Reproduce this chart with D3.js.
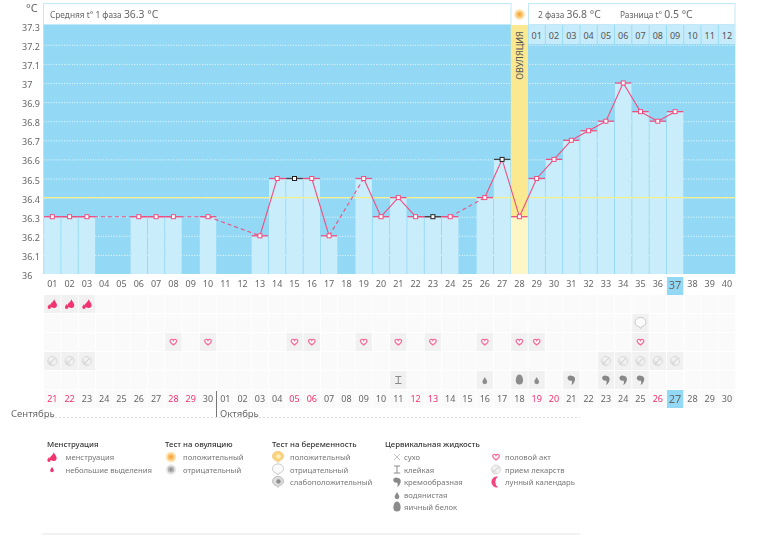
<!DOCTYPE html>
<html><head><meta charset="utf-8">
<script src="https://cdn.jsdelivr.net/npm/d3@7"></script>
<style>
html,body{margin:0;padding:0;background:#fff}
svg{display:block;filter:blur(.3px)}
text{font-family:"Noto Sans",sans-serif}
</style></head><body><svg id="c" width="770" height="535" fill="#666"></svg>
<script>
const cycleDays = d3.range(1,41);
const tempDays = [1,2,3,6,7,8,10,13,14,15,16,17,19,20,21,22,23,24,26,27,28,29,30,31,32,33,34,35,36,37];
const temps = [36.3,36.3,36.3,36.3,36.3,36.3,36.3,36.2,36.5,36.5,36.5,36.2,36.5,36.3,36.4,36.3,36.3,36.3,36.4,36.6,36.3,36.5,36.6,36.7,36.75,36.8,37,36.85,36.8,36.85];
const blackDays = [15,23,27];
const yTicks = [36,36.1,36.2,36.3,36.4,36.5,36.6,36.7,36.8,36.9,37,37.1,37.2,37.3];
const calendarDates = ["21","22","23","24","25","26","27","28","29","30","01","02","03","04","05","06","07","08","09","10","11","12","13","14","15","16","17","18","19","20","21","22","23","24","25","26","27","28","29","30"];
const redDays = [1,2,8,9,15,16,22,23,29,30,36];
const topDates = ["01","02","03","04","05","06","07","08","09","10","11","12"];
const ovulationDay = 28, todayDay = 37, coverline = 36.4;
const menstruationDays = [1,2,3];
const pregnancyDays = [35];
const heartDays = [8,10,15,16,19,21,23,26,28,29,35];
const pillDays = [1,2,3,33,34,35,36,37];
const stickyDays = [21], wateryDays = [26,29], eggDays = [28], creamyDays = [31,33,34,35];
const phase1 = "36.3 °C", phase2 = "36.8 °C", phaseDiff = "0.5 °C";

const pink="#ee4f80", blue="#93d9f5", pale="#caedfc";
const svg=d3.select("#c");
const x=d3.scaleBand().domain(cycleDays).range([43.65,735.65]).paddingInner(0.05).paddingOuter(0.025);
const cx=d=>x(d)+x.bandwidth()/2;
const y=d3.scaleLinear().domain([36,37.3]).range([274,25.7]);
const bw=x.bandwidth();

// gradient for pills
const defs=svg.append("defs");
const gr=defs.append("linearGradient").attr("id","pillG").attr("x1",0).attr("y1",1).attr("x2",1).attr("y2",0);
gr.append("stop").attr("offset",0).attr("stop-color","#cfcfcf");
gr.append("stop").attr("offset",.5).attr("stop-color","#f4f4f4");
gr.append("stop").attr("offset",1).attr("stop-color","#e2e2e2");

// icons
const dropP="M0,-4.5C1,-2 3,-.5 3,1.6A3,3 0 0 1-3,1.6C-3,-.5-1,-2 0,-4.5Z";
function icon(g,t,px,py){
  const n=g.append("g").attr("transform",`translate(${px},${py})`);
  const drop=(dx,dy,s,f)=>n.append("path").attr("d",dropP).attr("fill",f).attr("transform",`translate(${dx},${dy}) scale(${s})`);
  if(t==="men"){drop(-3,2.4,.55,"#f2336f");drop(-.6,.8,.55,"#f2336f");drop(1.8,-.4,.95,"#f2336f");}
  if(t==="spot"){drop(0,0,.6,"#f2336f");}
  if(t==="heart"){n.append("path").attr("transform","scale(.72)").attr("d","M0,4C-3,1.8-4.6,.4-4.6,-1.5A2.4,2.4 0 0 1 0,-2.2A2.4,2.4 0 0 1 4.6,-1.5C4.6,.4 3,1.8 0,4Z").attr("fill","#fff").attr("stroke","#f5709b").attr("stroke-width",1.8);}
  if(t==="pill"){n.append("circle").attr("r",4.6).attr("fill","url(#pillG)").attr("stroke","#d2d2d2").attr("stroke-width",.7);
    n.append("path").attr("d","M-2.6,2.6L2.6,-2.6").attr("stroke","#c2c2c2").attr("stroke-width",.8);}
  if(t==="preg"||t==="pregPos"||t==="pregWeak"){
    const f=t==="preg"?"#fbfbfb":t==="pregPos"?"#fbd27e":"#dcdcdc", s=t==="preg"?"#c4c4c4":t==="pregPos"?"#f5cb85":"#bbb";
    n.append("path").attr("d","M-5.5,-1A5.5,4.6 0 0 1 5.5,-1C5.5,2 3,3.4 1,3.8L0,5.5L-1.2,3.8C-3.5,3.4-5.5,2-5.5,-1Z").attr("fill",f).attr("stroke",s).attr("stroke-width",.9);
    if(t!=="preg")n.append("circle").attr("r",2.2).attr("cx",.5).attr("cy",-.6).attr("fill",t==="pregPos"?"#fdeebd":"#8f8f8f");}
  if(t==="sun"||t==="sunNeg"){
    const a=t==="sun";
    n.append("circle").attr("r",5.2).attr("fill",a?"#fde3ae":"#e8e8e8");
    n.append("circle").attr("r",3.3).attr("fill",a?"#f9c06a":"#b5b5b5");
    n.append("circle").attr("r",1.4).attr("fill",a?"#f7a43c":"#919191");}
  if(t==="dry"){n.append("path").attr("d","M-3,-3L3,3M3,-3L-3,3").attr("stroke","#b5b5b5").attr("stroke-width",.8);}
  if(t==="sticky"){n.append("path").attr("d","M-3,-3.5H3M0,-3.5V3.5M-3.2,3.5H3.2").attr("stroke","#8a8a8a").attr("stroke-width",1).attr("fill","none");}
  if(t==="watery"){drop(0,.5,.8,"#8c8c8c");}
  if(t==="egg"){n.append("path").attr("d","M0,-5.5C2.5,-5.5 3.6,-2 3.6,.6A3.6,4 0 0 1-3.6,.6C-3.6,-2-2.5,-5.5 0,-5.5Z").attr("fill","#8c8c8c");}
  if(t==="creamy"){n.append("path").attr("d","M-3.8,-2.2A3,2.6 0 0 1 1,-4C4,-3.4 4.4,-.5 3,2C2.3,3.6 1.2,4.6 0,5C1,3 1,1.6 0,.6C-1.6,1-3.8,.3-3.8,-2.2Z").attr("fill","#888");}
  if(t==="moon"){n.append("path").attr("d","M2,-5.5A5.6,5.6 0 1 0 2,5.5A7,7 0 0 1 2,-5.5Z").attr("fill","#f2447f");}
}

// header
svg.append("text").attr("x",26).attr("y",12).attr("font-size",11).text("°C");
const hdr=svg.append("g");
[[43.5,3.5,467.5,21],[528.5,3.5,206.5,21]].forEach(r=>hdr.append("rect").attr("x",r[0]).attr("y",r[1]).attr("width",r[2]).attr("height",r[3]).attr("fill","#fff").attr("stroke","#c3e8f7"));
function hText(px,small,big){
  const t=svg.append("text").attr("x",px).attr("y",18).attr("font-size",8.3);
  t.append("tspan").text(small+" ");
  t.append("tspan").attr("font-size",10.4).text(big);
}
hText(50,"Средняя t° 1 фаза",phase1);
hText(538,"2 фаза",phase2);
hText(620,"Разница t°",phaseDiff);
icon(svg,"sun",519.5,14.5);

// plot
svg.append("rect").attr("x",43.3).attr("y",25).attr("width",692).attr("height",249).attr("fill",blue);
svg.append("g").selectAll("line").data(yTicks.slice(1,-1)).join("line")
  .attr("x1",43.3).attr("x2",735.3).attr("y1",d=>y(d)+.5).attr("y2",d=>y(d)+.5)
  .attr("stroke","#fff").attr("stroke-opacity",.85).attr("stroke-dasharray","1,1.6");
// top date cells
const topCols=cycleDays.slice(28);
svg.append("g").selectAll("rect").data(topCols).join("rect")
  .attr("x",d=>x(d)).attr("width",bw).attr("y",25).attr("height",19).attr("fill","#c6ebfa");
svg.append("g").selectAll("text").data(topCols).join("text")
  .attr("x",cx).attr("y",39).attr("text-anchor","middle").attr("font-size",9).attr("fill","#555")
  .text((d,i)=>topDates[i]);
// ovulation band
svg.append("rect").attr("x",x(ovulationDay)-.4).attr("width",bw+.8).attr("y",25).attr("height",y(36.3)-25).attr("fill","#fbe991");
svg.append("rect").attr("x",x(ovulationDay)-.4).attr("width",bw+.8).attr("y",y(36.3)).attr("height",274-y(36.3)).attr("fill","#fdf6c6");
// bars
const pts=tempDays.map((d,i)=>({d,t:temps[i]}));
svg.append("g").selectAll("rect").data(pts.filter(p=>p.d!==ovulationDay)).join("rect")
  .attr("x",p=>x(p.d)).attr("width",bw).attr("y",p=>y(p.t)).attr("height",p=>y(36)-y(p.t)).attr("fill",pale);
// coverline
svg.append("line").attr("x1",43.3).attr("x2",735.3).attr("y1",y(coverline)).attr("y2",y(coverline)).attr("stroke","#f4ee8c").attr("stroke-width",1.4);
svg.append("text").attr("transform",`translate(${cx(ovulationDay)+3.2},55.5) rotate(-90)`).attr("text-anchor","middle").attr("font-size",9).attr("fill","#555").text("ОВУЛЯЦИЯ");
// lines
const segs=d3.pairs(pts);
svg.append("g").selectAll("line").data(segs).join("line")
  .attr("x1",s=>cx(s[0].d)).attr("y1",s=>y(s[0].t)).attr("x2",s=>cx(s[1].d)).attr("y2",s=>y(s[1].t))
  .attr("stroke",pink).attr("stroke-width",1.1)
  .attr("stroke-dasharray",s=>s[1].d-s[0].d>1?"4,3":null);
// caps & markers
svg.append("g").selectAll("line").data(pts).join("line")
  .attr("x1",p=>x(p.d)).attr("x2",p=>x(p.d)+bw).attr("y1",p=>y(p.t)).attr("y2",p=>y(p.t))
  .attr("stroke",p=>blackDays.includes(p.d)?"#444":pink).attr("stroke-width",1.3);
svg.append("g").selectAll("rect").data(pts).join("rect")
  .attr("x",p=>cx(p.d)-2).attr("y",p=>y(p.t)-2).attr("width",4).attr("height",4)
  .attr("fill","#fff").attr("stroke",p=>blackDays.includes(p.d)?"#222":pink).attr("stroke-width",1);

// axes
const yAxis=svg.append("g").call(d3.axisLeft(y).tickValues(yTicks).tickSize(0).tickFormat(d=>String(+d.toFixed(1))));
yAxis.select(".domain").remove();
yAxis.selectAll("text").attr("x",22).attr("dy","0.5em").attr("text-anchor","start").attr("font-size",9).attr("font-family",'"Noto Sans",sans-serif').attr("fill","#666");
svg.append("rect").attr("x",x(todayDay)).attr("y",277).attr("width",bw).attr("height",18).attr("fill",blue);
const xAxis=svg.append("g").attr("transform","translate(0,277)").call(d3.axisBottom(x).tickSize(0).tickFormat(d=>d<10?"0"+d:""+d));
xAxis.select(".domain").remove();
xAxis.selectAll("text").attr("y",4).attr("font-size",d=>d===todayDay?11:9).attr("font-family",'"Noto Sans",sans-serif').attr("fill","#666");

// symptom grid
const rowY=[295,314,333,352,371,390], rowH=18;
const active=[menstruationDays,pregnancyDays,heartDays,pillDays,[...stickyDays,...wateryDays,...eggDays,...creamyDays],[]];
rowY.forEach((ry,r)=>{
  svg.append("g").selectAll("rect").data(cycleDays).join("rect")
    .attr("x",d=>x(d)).attr("y",ry).attr("width",bw).attr("height",rowH)
    .attr("fill",d=>active[r].includes(d)?"#f1f1f1":(r===5&&d===todayDay?blue:"#fafafa"));
});
const place=(arr,r,t)=>arr.forEach(d=>icon(svg,t,cx(d),rowY[r]+9));
place(menstruationDays,0,"men");place(pregnancyDays,1,"preg");place(heartDays,2,"heart");place(pillDays,3,"pill");
place(stickyDays,4,"sticky");place(wateryDays,4,"watery");place(eggDays,4,"egg");place(creamyDays,4,"creamy");
svg.append("g").selectAll("text").data(cycleDays).join("text")
  .attr("x",cx).attr("y",d=>d===todayDay?403:402).attr("text-anchor","middle")
  .attr("font-size",d=>d===todayDay?11:9)
  .attr("fill",d=>redDays.includes(d)?"#f2336f":"#666")
  .text((d,i)=>calendarDates[i]);
// months
svg.append("line").attr("x1",216.5).attr("x2",216.5).attr("y1",391).attr("y2",417).attr("stroke","#777");
svg.append("text").attr("x",11).attr("y",417).attr("font-size",9.5).text("Сентябрь");
svg.append("text").attr("x",220).attr("y",417).attr("font-size",9.5).text("Октябрь");
svg.append("line").attr("x1",43).attr("x2",580).attr("y1",417.5).attr("y2",417.5).attr("stroke","#ddd").attr("stroke-dasharray","2,2");
svg.append("line").attr("x1",42).attr("x2",580).attr("y1",534).attr("y2",534).attr("stroke","#e4e4e4");

// legend
const legendTitles=[["Менструация",47],["Тест на овуляцию",165],["Тест на беременность",272],["Цервикальная жидкость",385]];
legendTitles.forEach(l=>svg.append("text").attr("x",l[1]).attr("y",447).attr("font-size",7.8).attr("font-weight",500).attr("fill","#333").text(l[0]));
const legendRows=[460,472.5,485,498,510];
const legendItems=[
 [52,65.5,0,"men","менструация"],[52,65.5,1,"spot","небольшие выделения"],
 [171,183,0,"sun","положительный"],[171,183,1,"sunNeg","отрицательный"],
 [278,290,0,"pregPos","положительный"],[278,290,1,"preg","отрицательный"],[278,290,2,"pregWeak","слабоположительный"],
 [397,404,0,"dry","сухо"],[397,404,1,"sticky","клейкая"],[397,404,2,"creamy","кремообразная"],[397,404,3,"watery","водянистая"],[397,404,4,"egg","яичный белок"],
 [496,505,0,"heart","половой акт"],[496,505,1,"pill","прием лекарств"],[496,505,2,"moon","лунный календарь"]];
legendItems.forEach(l=>{
  icon(svg,l[3],l[0],legendRows[l[2]]-3);
  svg.append("text").attr("x",l[1]).attr("y",legendRows[l[2]]).attr("font-size",7.7).attr("fill","#777").text(l[4]);
});
</script></body></html>
